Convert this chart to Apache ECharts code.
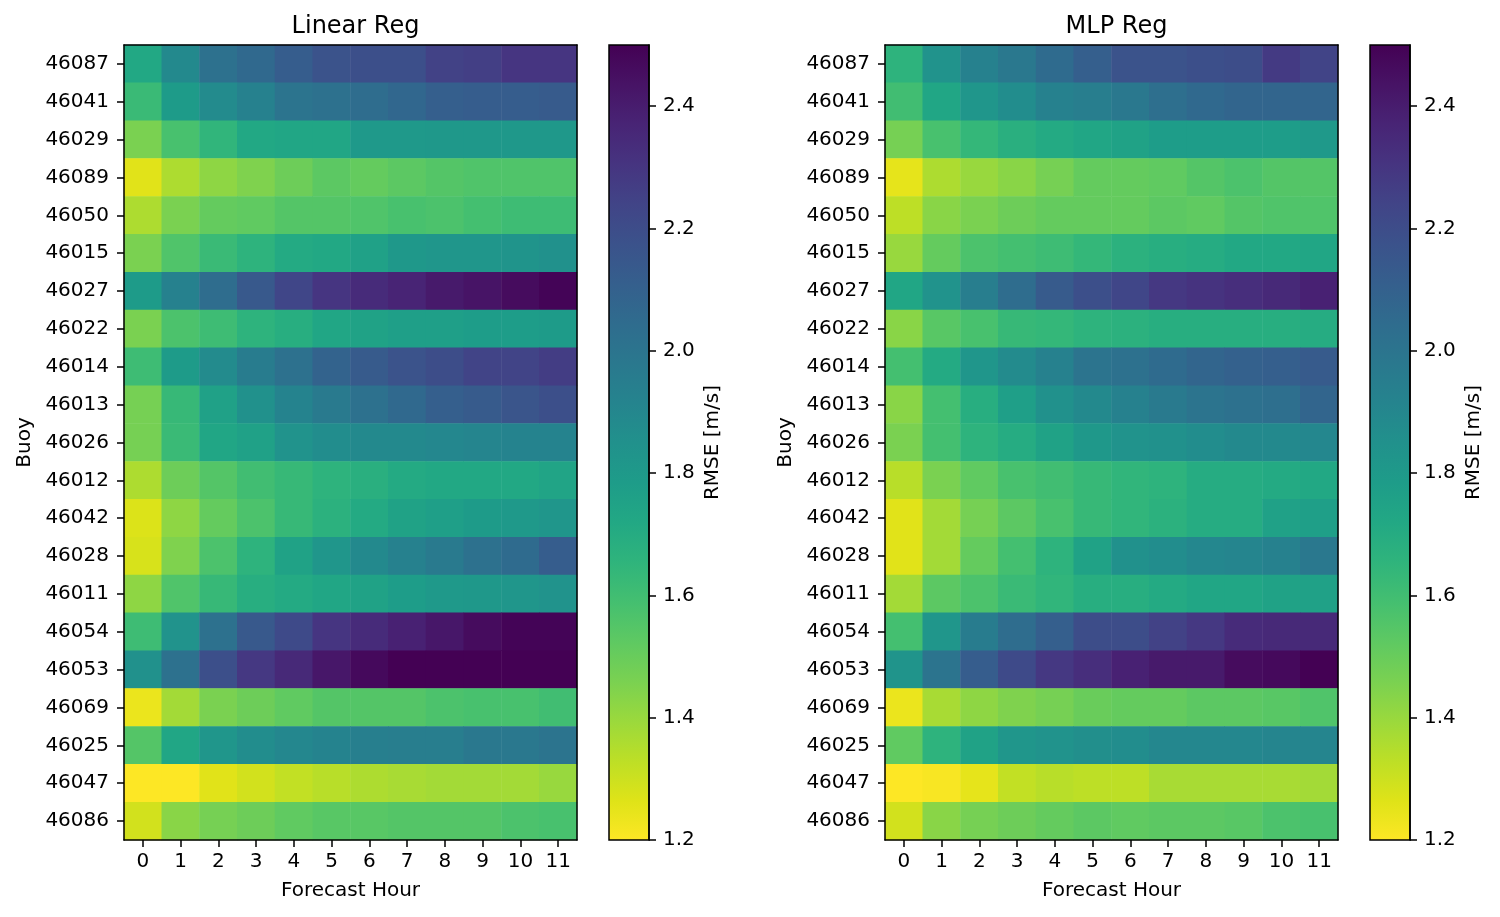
<!DOCTYPE html>
<html>
<head>
<meta charset="utf-8">
<script src="https://cdn.jsdelivr.net/npm/echarts@6/dist/echarts.min.js"></script>
<style>
html,body{margin:0;padding:0;background:#fff;}
#chart{width:1500px;height:917px;}
</style>
</head>
<body>
<div id="chart"></div>
<script>
const buoys = ['46087','46041','46029','46089','46050','46015','46027','46022','46014','46013','46026','46012','46042','46028','46011','46054','46053','46069','46025','46047','46086'];
const hours = ['0','1','2','3','4','5','6','7','8','9','10','11'];

const linearRmse = [
  [1.72,1.89,2.02,2.06,2.12,2.17,2.19,2.19,2.25,2.26,2.30,2.30],
  [1.62,1.79,1.88,1.93,2.00,2.02,2.04,2.07,2.11,2.12,2.12,2.13],
  [1.46,1.58,1.65,1.72,1.73,1.73,1.80,1.80,1.81,1.81,1.81,1.81],
  [1.26,1.36,1.42,1.45,1.49,1.53,1.51,1.53,1.55,1.56,1.56,1.56],
  [1.36,1.46,1.51,1.52,1.55,1.55,1.56,1.58,1.57,1.59,1.61,1.61],
  [1.46,1.56,1.62,1.66,1.71,1.72,1.76,1.81,1.82,1.82,1.83,1.85],
  [1.79,1.93,2.04,2.14,2.23,2.30,2.34,2.37,2.41,2.43,2.46,2.49],
  [1.46,1.57,1.61,1.66,1.69,1.73,1.75,1.77,1.77,1.78,1.78,1.79],
  [1.61,1.79,1.88,1.96,2.02,2.09,2.13,2.17,2.20,2.24,2.24,2.27],
  [1.47,1.63,1.76,1.85,1.92,1.97,2.02,2.06,2.11,2.13,2.16,2.19],
  [1.47,1.62,1.73,1.76,1.84,1.87,1.89,1.89,1.90,1.91,1.92,1.92],
  [1.36,1.49,1.55,1.60,1.63,1.66,1.68,1.71,1.72,1.72,1.72,1.74],
  [1.27,1.42,1.51,1.57,1.63,1.67,1.71,1.75,1.77,1.79,1.80,1.82],
  [1.28,1.45,1.57,1.66,1.75,1.82,1.89,1.93,1.97,2.02,2.05,2.12],
  [1.42,1.56,1.63,1.69,1.71,1.73,1.75,1.78,1.80,1.81,1.82,1.84],
  [1.61,1.84,2.02,2.14,2.21,2.30,2.34,2.38,2.42,2.46,2.49,2.49],
  [1.85,2.02,2.19,2.29,2.35,2.42,2.47,2.50,2.50,2.50,2.50,2.50],
  [1.24,1.38,1.46,1.49,1.52,1.55,1.55,1.55,1.57,1.58,1.58,1.60],
  [1.55,1.73,1.82,1.87,1.90,1.92,1.94,1.95,1.95,1.98,1.98,2.00],
  [1.20,1.20,1.26,1.29,1.32,1.34,1.36,1.37,1.38,1.38,1.38,1.40],
  [1.29,1.43,1.47,1.49,1.52,1.54,1.54,1.55,1.55,1.55,1.57,1.58]
];

const mlpRmse = [
  [1.66,1.84,1.93,1.98,2.05,2.11,2.17,2.17,2.19,2.20,2.28,2.24],
  [1.60,1.73,1.82,1.87,1.93,1.95,1.98,2.03,2.06,2.08,2.08,2.08],
  [1.47,1.58,1.64,1.68,1.71,1.73,1.75,1.78,1.78,1.78,1.78,1.80],
  [1.25,1.36,1.40,1.43,1.47,1.51,1.51,1.52,1.55,1.57,1.55,1.55],
  [1.33,1.43,1.46,1.49,1.51,1.51,1.51,1.53,1.52,1.55,1.56,1.56],
  [1.40,1.51,1.57,1.59,1.61,1.64,1.67,1.69,1.70,1.72,1.72,1.73],
  [1.73,1.84,1.95,2.04,2.13,2.19,2.23,2.29,2.31,2.33,2.35,2.38],
  [1.43,1.54,1.58,1.63,1.64,1.66,1.67,1.69,1.69,1.69,1.69,1.70],
  [1.59,1.71,1.82,1.88,1.93,2.00,2.02,2.05,2.08,2.10,2.11,2.13],
  [1.43,1.59,1.69,1.77,1.85,1.89,1.93,1.97,2.00,2.02,2.03,2.08],
  [1.46,1.59,1.66,1.70,1.75,1.81,1.84,1.85,1.87,1.89,1.89,1.90],
  [1.34,1.46,1.52,1.58,1.60,1.63,1.65,1.66,1.70,1.70,1.71,1.72],
  [1.26,1.38,1.47,1.53,1.58,1.63,1.65,1.67,1.70,1.70,1.76,1.77],
  [1.26,1.38,1.51,1.59,1.66,1.75,1.85,1.87,1.90,1.91,1.93,1.98],
  [1.38,1.53,1.57,1.62,1.65,1.69,1.69,1.71,1.73,1.73,1.75,1.76],
  [1.59,1.82,1.96,2.04,2.11,2.20,2.20,2.25,2.29,2.34,2.35,2.35],
  [1.83,2.00,2.12,2.21,2.29,2.33,2.38,2.41,2.41,2.46,2.47,2.50],
  [1.24,1.37,1.42,1.45,1.47,1.50,1.51,1.51,1.53,1.53,1.54,1.56],
  [1.52,1.66,1.75,1.82,1.84,1.86,1.87,1.90,1.90,1.90,1.91,1.91],
  [1.20,1.21,1.25,1.32,1.34,1.33,1.33,1.37,1.37,1.37,1.37,1.38],
  [1.29,1.43,1.47,1.49,1.51,1.53,1.52,1.53,1.53,1.54,1.57,1.58]
];

const cbRange = [1.2, 2.5];
const cbTicks = [1.2, 1.4, 1.6, 1.8, 2.0, 2.2, 2.4];
const cbSlot = ['cb'];

const viridis = ['#440154','#471365','#482475','#463480','#414487','#3b528b','#355f8d','#2f6c8e','#2a788e','#25848e','#21918c','#1e9c89','#22a884','#2fb47c','#44bf70','#5ec962','#7ad151','#9bd93c','#bddf26','#dfe318','#fde725'];

const FONT = 'DejaVu Sans';
const BLACK = '#000';

function toCells(mat){
  const out = [];
  mat.forEach((row, yi) => row.forEach((v, xi) => out.push([xi, yi, v])));
  return out;
}

const panels = [
  {title:'Linear Reg', data: linearRmse, left:124, cbLeft:609},
  {title:'MLP Reg', data: mlpRmse, left:885, cbLeft:1370}
];
const TOP = 45, H = 795, W = 453, CBW = 40;

const grid = [], xAxis = [], yAxis = [], series = [], title = [], visualMap = [];
const gradStops = viridis.map((c, i) => ({offset: i/(viridis.length-1), color: c}));

panels.forEach((p, pi) => {
  const g = grid.length;
  grid.push({left:p.left, top:TOP, width:W, height:H, containLabel:false});
  grid.push({left:p.cbLeft, top:TOP, width:CBW, height:H, containLabel:false});
  title.push({text:p.title, left:p.left + W/2, top:10, textAlign:'center',
    textStyle:{fontFamily:FONT, fontSize:24, fontWeight:'normal', color:BLACK}});
  const xi = xAxis.length;
  xAxis.push({type:'category', gridIndex:g, data:hours, position:'bottom', z:10,
    name:'Forecast Hour', nameLocation:'middle', nameGap:41,
    nameTextStyle:{fontFamily:FONT, fontSize:20, color:BLACK},
    axisLine:{show:true, onZero:false, lineStyle:{color:BLACK, width:1.5}},
    axisTick:{show:true, alignWithLabel:true, length:7, lineStyle:{color:BLACK, width:1.5}},
    axisLabel:{fontFamily:FONT, fontSize:20, color:BLACK, margin:12, interval:0},
    splitLine:{show:false}});
  xAxis.push({type:'category', gridIndex:g, data:hours, position:'top', z:10,
    axisLine:{show:true, onZero:false, lineStyle:{color:BLACK, width:1.5}},
    axisTick:{show:false}, axisLabel:{show:false}, splitLine:{show:false}});
  xAxis.push({type:'category', gridIndex:g+1, data:cbSlot, boundaryGap:false, show:false});
  const yi = yAxis.length;
  yAxis.push({type:'category', gridIndex:g, data:buoys, inverse:true, position:'left', z:10,
    name:'Buoy', nameLocation:'middle', nameGap:89, nameRotate:90,
    nameTextStyle:{fontFamily:FONT, fontSize:20, color:BLACK},
    axisLine:{show:true, onZero:false, lineStyle:{color:BLACK, width:1.5}},
    axisTick:{show:true, alignWithLabel:true, length:7, lineStyle:{color:BLACK, width:1.5}},
    axisLabel:{fontFamily:FONT, fontSize:20, color:BLACK, margin:15, interval:0},
    splitLine:{show:false}});
  yAxis.push({type:'category', gridIndex:g, data:buoys, inverse:true, position:'right', z:10,
    axisLine:{show:true, onZero:false, lineStyle:{color:BLACK, width:1.5}},
    axisTick:{show:false}, axisLabel:{show:false}, splitLine:{show:false}});
  yAxis.push({type:'value', gridIndex:g+1, min:cbRange[0], max:cbRange[1], position:'right', z:10,
    name:'RMSE [m/s]', nameLocation:'middle', nameGap:54, nameRotate:90,
    nameTextStyle:{fontFamily:FONT, fontSize:20, color:BLACK},
    axisLine:{show:true, onZero:false, lineStyle:{color:BLACK, width:1.5}},
    axisTick:{show:true, inside:false, length:7, customValues:cbTicks, lineStyle:{color:BLACK, width:1.5}},
    axisLabel:{fontFamily:FONT, fontSize:20, color:BLACK, margin:14, customValues:cbTicks,
      formatter: v => Number(v).toFixed(1)},
    splitLine:{show:false}});
  const si = series.length;
  series.push({type:'heatmap', xAxisIndex:xi, yAxisIndex:yi, data:toCells(p.data),
    itemStyle:{borderWidth:0}, emphasis:{disabled:true}, silent:true, progressive:0});
  visualMap.push({type:'continuous', show:false, min:cbRange[0], max:cbRange[1], dimension:2,
    seriesIndex:si, inRange:{color: viridis.slice().reverse()}});
  series.push({type:'custom', xAxisIndex:xi+2, yAxisIndex:yi+2, data:[cbRange], silent:true,
    encode:{y:[0,1]}, z:1,
    renderItem: function(params, api){
      const y0 = api.coord([0, api.value(0)])[1];
      const y1 = api.coord([0, api.value(1)])[1];
      const cs = params.coordSys;
      return {type:'rect', shape:{x:cs.x, y:y1, width:cs.width, height:y0-y1},
        style:{fill:new echarts.graphic.LinearGradient(0,0,0,1,gradStops), stroke:BLACK, lineWidth:1.5}};
    }});
});

const chart = echarts.init(document.getElementById('chart'), null, {renderer:'canvas'});
chart.setOption({
  animation:false,
  backgroundColor:'#fff',
  textStyle:{fontFamily:FONT},
  title, grid, xAxis, yAxis, series, visualMap
});
</script>
</body>
</html>
